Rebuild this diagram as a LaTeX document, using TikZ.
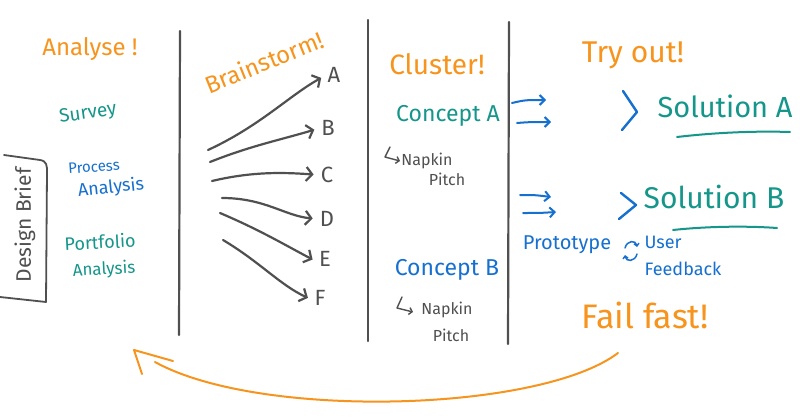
\documentclass[tikz,border=0pt]{standalone}
\usepackage{fontspec}
\setmainfont{Fira Sans}
\usetikzlibrary{arrows.meta}
\definecolor{orng}{RGB}{247,148,29}
\definecolor{tl}{RGB}{20,150,138}
\definecolor{blu}{RGB}{22,112,208}
\definecolor{gry}{RGB}{80,80,80}
\tikzset{
  hand/.style={inner sep=0pt, font=\fontsize{#1}{#1}\selectfont},
  divider/.style={draw=gry, line width=2.2pt, line cap=round},
  brarrow/.style={draw=gry, line width=2.2pt, line cap=round, shorten >=6pt, -{Straight Barb[length=6pt,width=14pt,line width=2.2pt]}},
  bluarrow/.style={draw=blu, line width=2pt, line cap=round, -{Straight Barb[length=5pt,width=10pt,line width=2pt]}},
  chev/.style={draw=blu, line width=2.4pt, line cap=round, line join=round},
  uline/.style={draw=tl, line width=2pt, line cap=round},
  hook/.style={draw=gry, line width=1.4pt, line cap=round, line join=round},
  letter/.style={hand=22, text=gry, inner sep=1pt}
}
\begin{document}
\begin{tikzpicture}[x=1pt,y=-1pt]
\useasboundingbox (0,0) rectangle (800,417);
\fill[white] (0,0) rectangle (800,417);

% dividers
\coordinate (d1t) at (180,31); \coordinate (d1b) at (179,335);
\coordinate (d2t) at (368,20); \coordinate (d2b) at (368,341);
\coordinate (d3t) at (509,22); \coordinate (d3b) at (508,344);
\draw[divider] (d1t) -- (d1b);
\draw[divider] (d2t) -- (d2b);
\draw[divider] (d3t) -- (d3b);

% column 1
\node[hand=24, text=orng] (analyse) at (90,49) {Analyse !};
\node[hand=19, text=tl, rotate=8] (survey) at (88,114) {Survey};
\node[hand=15, text=blu, rotate=4] (process) at (94,167) {Process};
\node[hand=18, text=blu, rotate=6] (analysis1) at (111,188) {Analysis};
\node[hand=18, text=tl, rotate=3] (portfolio) at (100,242) {Portfolio};
\node[hand=17, text=tl, rotate=3] (analysis2) at (104,270) {Analysis};
\node[hand=21, text=gry, rotate=90] (brief) at (25,225) {Design Brief};
\draw[draw=gry, line width=1.8pt, line cap=round, line join=round]
  (4,155) -- (40,160) .. controls (47,161) and (47,166) .. (47,172) -- (46,302) -- (0,297);

% column 2
\node[hand=24, text=orng, rotate=22] (brainstorm) at (264,62) {Brainstorm!};
\node[letter] (A) at (334,75) {A};
\node[letter] (B) at (328,128) {B};
\node[letter] (C) at (327,175) {C};
\node[letter] (D) at (327,219) {D};
\node[letter] (E) at (325,259) {E};
\node[letter] (F) at (320,298) {F};
\coordinate (s1) at (208,150);
\coordinate (s2) at (210,162);
\coordinate (s3) at (212,181);
\coordinate (s4) at (222,198);
\coordinate (s5) at (220,213);
\coordinate (s6) at (223,240);
\draw[brarrow] (s1) .. controls (260,126) and (290,95) .. (A.west);
\draw[brarrow] (s2) .. controls (250,146) and (280,140) .. (B.west);
\draw[brarrow] (s3) .. controls (250,172) and (280,172) .. (C.west);
\draw[brarrow] (s4) .. controls (265,198) and (285,216) .. (D.west);
\draw[brarrow] (s5) .. controls (260,230) and (285,245) .. (E.205);
\draw[brarrow] (s6) .. controls (260,262) and (280,285) .. (F.200);

% column 3
\node[hand=28, text=orng] (cluster) at (437,64) {Cluster!};
\node[hand=23, text=tl] (conA) at (448,116) {Concept A};
\node[hand=16, text=gry] (napA) at (427,161) {Napkin};
\node[hand=16, text=gry] (pitA) at (447,179) {Pitch};
\coordinate (hA1) at (390,147); \coordinate (hA2) at (400,161);
\draw[hook, -{Straight Barb[length=3pt,width=7pt]}] (hA1) -- (385,157) -- (hA2);
\node[hand=23, text=blu] (conB) at (447,270) {Concept B};
\node[hand=16, text=gry] (napB) at (447,310) {Napkin};
\node[hand=16, text=gry] (pitB) at (451,335) {Pitch};
\coordinate (hB1) at (402,297); \coordinate (hB2) at (413,312);
\draw[hook, -{Straight Barb[length=3pt,width=7pt]}] (hB1) -- (397,308) -- (hB2);

% column 4
\node[hand=30, text=orng] (tryout) at (633,55) {Try out!};
\node[hand=29, text=tl] (solA) at (725,106) {Solution A};
\node[hand=30, text=tl] (solB) at (714,197) {Solution B};
\coordinate (ua1) at (677,137); \coordinate (ua2) at (790,132);
\coordinate (ub1) at (673,230); \coordinate (ub2) at (777,228);
\draw[uline] (ua1) .. controls (720,132) and (760,131) .. (ua2);
\draw[uline] (ub1) .. controls (710,226) and (750,226) .. (ub2);

\coordinate (a1s) at (512,103); \coordinate (a1e) at (546,100);
\coordinate (a2s) at (517,123); \coordinate (a2e) at (551,122);
\coordinate (a3s) at (520,195); \coordinate (a3e) at (551,197);
\coordinate (a4s) at (523,213); \coordinate (a4e) at (556,212);
\draw[bluarrow] (a1s) .. controls (525,100) .. (a1e);
\draw[bluarrow] (a2s) .. controls (530,122) .. (a2e);
\draw[bluarrow] (a3s) .. controls (535,195) .. (a3e);
\draw[bluarrow] (a4s) .. controls (540,213) .. (a4e);
\draw[chev] (623,91) -- (637,112) -- (622,130);
\draw[chev] (621,193) -- (636,205) -- (619,219);

\node[hand=20, text=blu] (proto) at (567,245) {Prototype};
\node[hand=18, text=blu] (user) at (663,242) {User};
\node[hand=18, text=blu] (feedback) at (683,269) {Feedback};
\draw[draw=blu, line width=1.5pt, line cap=round, -{Straight Barb[length=2.5pt,width=5pt]}]
  (625,248) .. controls (627,240) and (636,240) .. (637,247);
\draw[draw=blu, line width=1.5pt, line cap=round, -{Straight Barb[length=2.5pt,width=5pt]}]
  (637,254) .. controls (635,262) and (626,262) .. (625,255);

\node[hand=34, text=orng] (fail) at (645,315) {Fail fast!};

% loop back arrow
\coordinate (ls) at (618,353);
\coordinate (le) at (134,350);
\draw[draw=orng, line width=2pt, line cap=round]
  (ls) .. controls (540,412) and (260,420) .. (155,362);
\draw[draw=orng, line width=2pt, line cap=round, line join=round]
  (173,361) -- (le) -- (142,374);
\end{tikzpicture}
\end{document}
